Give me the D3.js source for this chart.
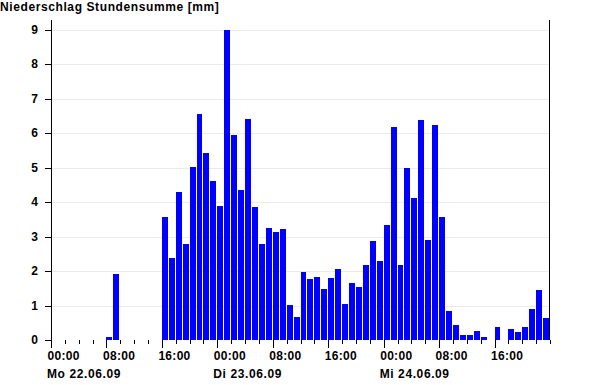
<!DOCTYPE html>
<html>
<head>
<meta charset="utf-8">
<script src="https://cdn.jsdelivr.net/npm/d3@7"></script>
<style>
	body { margin: 0; background: #fff; }
	svg text { font-family: "Liberation Sans", Arial, sans-serif; font-weight: bold; font-size: 12px; fill: #000; }
	.grid line { stroke: #ebebeb; stroke-width: 1; shape-rendering: crispEdges; }
	.axis path, .axis line { stroke: #000; shape-rendering: crispEdges; }
</style>
</head>
<body>
<div id="chart"></div>
<script>
// Stundensummen in mm, je Tag 24 Werte (00:00 - 23:00)
var tag1 = [0, 0, 0, 0, 0, 0, 0, 0, 0.1, 1.9, 0, 0, 0, 0, 0, 0, 3.57, 2.38, 4.29, 2.78, 5.01, 6.55, 5.42, 4.61];
var tag2 = [3.88, 8.99, 5.94, 4.35, 6.41, 3.86, 2.78, 3.25, 3.13, 3.22, 1.01, 0.67, 1.97, 1.77, 1.83, 1.48, 1.8, 2.06, 1.04, 1.65, 1.54, 2.17, 2.87, 2.29];
var tag3 = [3.33, 6.17, 2.17, 4.99, 4.12, 6.38, 2.9, 6.23, 3.57, 0.84, 0.43, 0.14, 0.14, 0.26, 0.09, 0, 0.37, 0, 0.32, 0.23, 0.37, 0.9, 1.45, 0.64];
var tage = [new Date(2009, 5, 22), new Date(2009, 5, 23), new Date(2009, 5, 24)];
var tagLabels = ["Mo 22.06.09", "Di 23.06.09", "Mi 24.06.09"];
var yTicks = [0, 1, 2, 3, 4, 5, 6, 7, 8, 9];
var titel = "Niederschlag Stundensumme [mm]";

var widthSvg = 600, heightSvg = 385;
var xNudge = 51, yNudge = 20;
var widthChart = 499, heightChart = 320;

var werte = [];
[tag1, tag2, tag3].forEach(function(tag, t) {
	tag.forEach(function(v, h) {
		werte.push({ zeit: d3.timeHour.offset(tage[t], h), wert: v });
	});
});

var start = tage[0];
var ende = d3.timeDay.offset(tage[2], 1);

var x = d3.scaleTime()
	.domain([start, ende])
	.range([0, widthChart]);

var y = d3.scaleLinear()
	.domain([0, 9.28])
	.range([heightChart, 0]);

var svg = d3.select("#chart").append("svg").attr("width", widthSvg).attr("height", heightSvg);

svg.append("text")
	.attr("x", 0)
	.attr("y", 11)
	.style("letter-spacing", "0.6px")
	.text(titel);

var chartGroup = svg.append("g").attr("transform", "translate(" + xNudge + "," + yNudge + ")");

// Gitterlinien
chartGroup.append("g")
	.attr("class", "grid")
	.selectAll("line")
	.data(yTicks.filter(function(d) { return d > 0; }))
	.enter()
	.append("line")
	.attr("x1", 0)
	.attr("x2", widthChart)
	.attr("y1", function(d) { return Math.round(y(d)) + 0.5; })
	.attr("y2", function(d) { return Math.round(y(d)) + 0.5; });

// Balken
chartGroup.selectAll(".bar")
	.data(werte.filter(function(d) { return d.wert > 0; }))
	.enter()
	.append("rect")
	.attr("class", "bar")
	.attr("x", function(d) { return x(d.zeit); })
	.attr("width", function(d) { return x(d3.timeHour.offset(d.zeit, 1)) - x(d.zeit) - 1; })
	.attr("y", function(d) { return y(d.wert); })
	.attr("height", function(d) { return heightChart - y(d.wert); })
	.style("fill", "#0000ff")
	.style("shape-rendering", "crispEdges");

// rechte Linie
chartGroup.append("line")
	.attr("class", "axis")
	.attr("x1", widthChart - 0.5).attr("x2", widthChart - 0.5)
	.attr("y1", 0).attr("y2", heightChart)
	.style("stroke", "#000")
	.style("shape-rendering", "crispEdges");

// x-Achse: kleine Striche alle 2 Stunden
var xMinor = d3.axisBottom(x)
	.ticks(d3.timeHour.every(2))
	.tickSize(4)
	.tickFormat("");

chartGroup.append("g")
	.attr("class", "axis x minor")
	.attr("transform", "translate(0," + heightChart + ")")
	.call(xMinor);

var xAxis = d3.axisBottom(x)
	.tickValues(d3.timeHour.every(8).range(start, ende))
	.tickSize(8)
	.tickPadding(3)
	.tickFormat(d3.timeFormat("%H:%M"));

var gx = chartGroup.append("g")
	.attr("class", "axis x")
	.attr("transform", "translate(0," + heightChart + ")")
	.call(xAxis);

gx.selectAll("text")
	.attr("text-anchor", "start")
	.attr("dx", -4)
	.style("letter-spacing", "0.3px");

chartGroup.selectAll(".tag")
	.data(tage)
	.enter()
	.append("text")
	.attr("class", "tag")
	.attr("x", function(d) { return x(d) - 4; })
	.attr("y", heightChart + 38)
	.style("letter-spacing", "0.6px")
	.text(function(d, i) { return tagLabels[i]; });

var yAxis = d3.axisLeft(y)
	.tickValues(yTicks)
	.tickSize(6)
	.tickPadding(7)
	.tickFormat(d3.format("d"));

chartGroup.append("g")
	.attr("class", "axis y")
	.call(yAxis);

chartGroup.selectAll(".axis .domain")
	.attr("d", function() {
		return this.parentNode.classList.contains("y") ? "M0.5,0V" + heightChart : "M0," + (heightChart + 0.5) + "H" + widthChart;
	});
chartGroup.selectAll(".axis text").style("font-size", "12px").style("font-family", "Liberation Sans, Arial, sans-serif").style("font-weight", "bold");
</script>
</body>
</html>
